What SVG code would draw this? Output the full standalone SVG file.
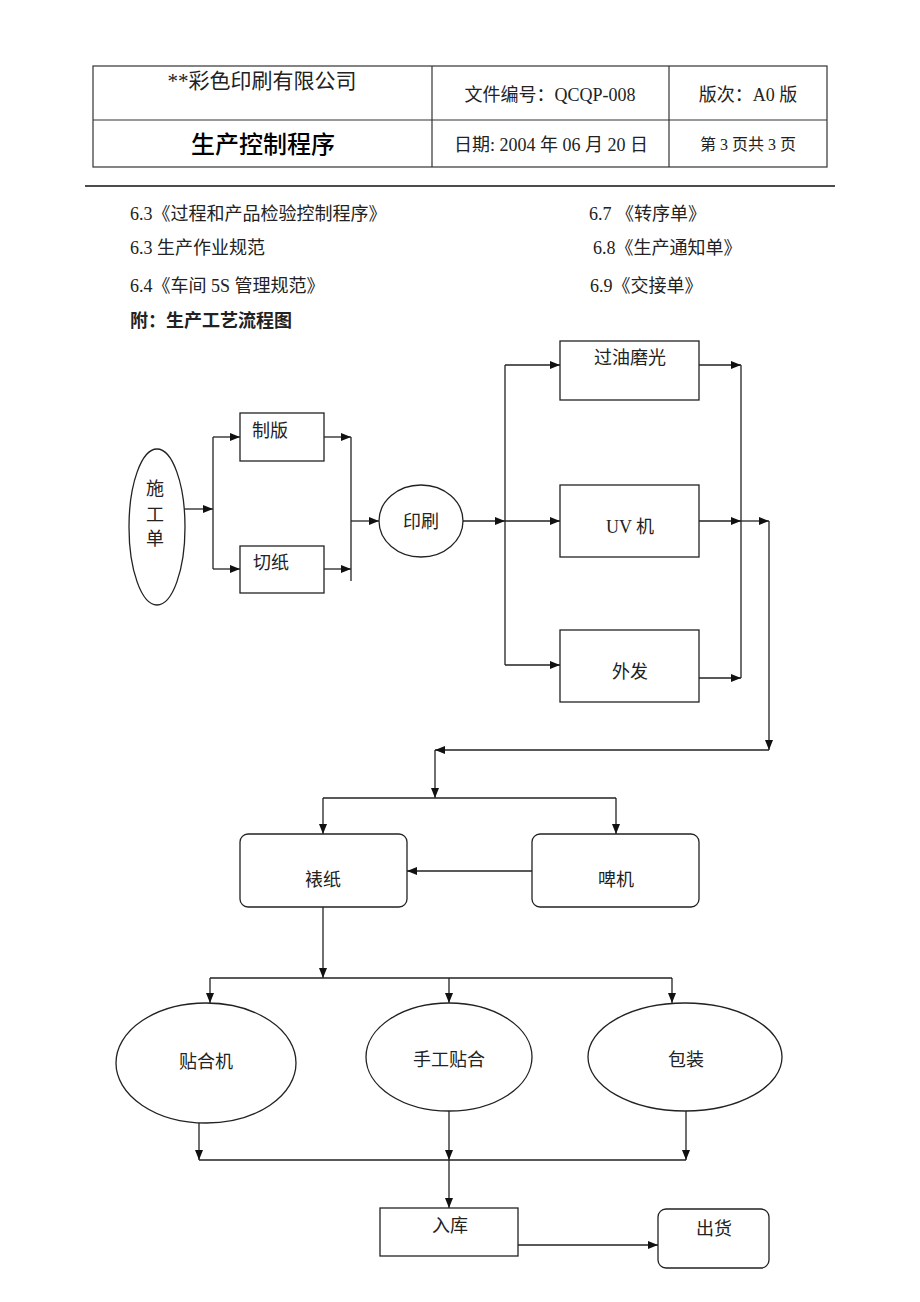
<svg xmlns="http://www.w3.org/2000/svg" width="920" height="1302" viewBox="0 0 920 1302">
<style>
text{font-family:"Liberation Serif","Noto Sans CJK SC",serif;fill:#222;font-size:18px}
.b{font-weight:bold;font-family:"Liberation Sans","Noto Sans CJK SC",sans-serif}
.m{text-anchor:middle}
.f20{font-size:21px}
.f16{font-size:16px}
.f17{font-size:18px}
.title{font-size:24px;font-family:"Noto Sans CJK SC",sans-serif;font-weight:500;fill:#000}
.s{fill:#fff;stroke:#222;stroke-width:1.3}
.c{fill:none;stroke:#222;stroke-width:1.3}
.t{fill:none;stroke:#333;stroke-width:1.2}
</style>
<defs>
<marker id="a" markerUnits="userSpaceOnUse" markerWidth="10" markerHeight="8" refX="10" refY="4" orient="auto"><path d="M0,0L10,4L0,8z" fill="#111"/></marker>
</defs>
<rect width="920" height="1302" fill="#fff"/>
<g id="header">
<rect class="t" x="93" y="66" width="734" height="101"/>
<line class="t" x1="93" y1="120" x2="827" y2="120"/>
<line class="t" x1="432" y1="66" x2="432" y2="167"/>
<line class="t" x1="669" y1="66" x2="669" y2="167"/>
<line x1="85" y1="186" x2="835" y2="186" stroke="#111" stroke-width="1.6"/>
<text class="m f20" x="262" y="88">**彩色印刷有限公司</text>
<text class="m" x="550" y="101">文件编号：QCQP-008</text>
<text class="m" x="748" y="101">版次：A0 版</text>
<text class="m title" x="263" y="153">生产控制程序</text>
<text class="m" x="551" y="151">日期: 2004 年 06 月 20 日</text>
<text class="m f16" x="748" y="150">第 3 页共 3 页</text>
</g>
<g id="refs">
<text x="130" y="220">6.3《过程和产品检验控制程序》</text>
<text x="589" y="220">6.7 《转序单》</text>
<text x="130" y="254">6.3 生产作业规范</text>
<text x="593" y="254">6.8《生产通知单》</text>
<text x="130" y="292">6.4《车间 5S 管理规范》</text>
<text x="590" y="292">6.9《交接单》</text>
<text class="b f17" x="130" y="327">附：生产工艺流程图</text>
</g>
<g id="connectors">
<path class="c" d="M185,509H213" marker-end="url(#a)"/>
<path class="c" d="M213,437V569"/>
<path class="c" d="M213,437H240" marker-end="url(#a)"/>
<path class="c" d="M213,569H240" marker-end="url(#a)"/>
<path class="c" d="M324,437H351" marker-end="url(#a)"/>
<path class="c" d="M324,569H351" marker-end="url(#a)"/>
<path class="c" d="M351,437V581"/>
<path class="c" d="M351,521H379" marker-end="url(#a)"/>
<path class="c" d="M463,521H505" marker-end="url(#a)"/>
<path class="c" d="M505,365V665"/>
<path class="c" d="M505,365H560" marker-end="url(#a)"/>
<path class="c" d="M505,521H560" marker-end="url(#a)"/>
<path class="c" d="M505,665H560" marker-end="url(#a)"/>
<path class="c" d="M699,365H741" marker-end="url(#a)"/>
<path class="c" d="M699,521H741" marker-end="url(#a)"/>
<path class="c" d="M699,678H741" marker-end="url(#a)"/>
<path class="c" d="M741,365V678"/>
<path class="c" d="M741,521H769" marker-end="url(#a)"/>
<path class="c" d="M769,521V750" marker-end="url(#a)"/>
<path class="c" d="M769,750H435" marker-end="url(#a)"/>
<path class="c" d="M435,750V798" marker-end="url(#a)"/>
<path class="c" d="M323,798H616"/>
<path class="c" d="M323,798V834" marker-end="url(#a)"/>
<path class="c" d="M616,798V834" marker-end="url(#a)"/>
<path class="c" d="M532,871H407" marker-end="url(#a)"/>
<path class="c" d="M323,907V978" marker-end="url(#a)"/>
<path class="c" d="M210,978H672"/>
<path class="c" d="M210,978V1003" marker-end="url(#a)"/>
<path class="c" d="M449,978V1003" marker-end="url(#a)"/>
<path class="c" d="M672,978V1003" marker-end="url(#a)"/>
<path class="c" d="M199,1123V1160" marker-end="url(#a)"/>
<path class="c" d="M449,1111V1160" marker-end="url(#a)"/>
<path class="c" d="M686,1111V1160" marker-end="url(#a)"/>
<path class="c" d="M199,1160H686"/>
<path class="c" d="M449,1160V1208" marker-end="url(#a)"/>
<path class="c" d="M518,1245H658" marker-end="url(#a)"/>
</g>
<g id="n-shigongdan"><ellipse class="s" cx="157" cy="527" rx="28" ry="78"/><text class="m" x="155" y="495">施</text><text class="m" x="155" y="521">工</text><text class="m" x="155" y="545">单</text></g>
<g id="n-zhiban"><rect class="s" x="240" y="413" width="84" height="48"/><text x="252" y="437">制版</text></g>
<g id="n-qiezhi"><rect class="s" x="240" y="546" width="84" height="47"/><text x="253" y="569">切纸</text></g>
<g id="n-yinshua"><ellipse class="s" cx="421" cy="521" rx="42" ry="36"/><text class="m" x="421" y="528">印刷</text></g>
<g id="n-guoyou"><rect class="s" x="560" y="341" width="139" height="59"/><text class="m" x="630" y="364">过油磨光</text></g>
<g id="n-uv"><rect class="s" x="560" y="485" width="139" height="72"/><text class="m" x="630" y="533">UV 机</text></g>
<g id="n-waifa"><rect class="s" x="560" y="630" width="139" height="72"/><text class="m" x="630" y="678">外发</text></g>
<g id="n-biaozhi"><rect class="s" x="240" y="834" width="167" height="73" rx="8"/><text class="m" x="323" y="886">裱纸</text></g>
<g id="n-piji"><rect class="s" x="532" y="834" width="167" height="73" rx="8"/><text class="m" x="616" y="886">啤机</text></g>
<g id="n-tiehe"><ellipse class="s" cx="206" cy="1063" rx="90" ry="60"/><text class="m" x="206" y="1068">贴合机</text></g>
<g id="n-shougong"><ellipse class="s" cx="449" cy="1057" rx="83" ry="54"/><text class="m" x="449" y="1066">手工贴合</text></g>
<g id="n-baozhuang"><ellipse class="s" cx="685" cy="1057" rx="97" ry="54"/><text class="m" x="686" y="1066">包装</text></g>
<g id="n-ruku"><rect class="s" x="380" y="1208" width="138" height="48"/><text class="m" x="450" y="1232">入库</text></g>
<g id="n-chuhuo"><rect class="s" x="658" y="1209" width="111" height="59" rx="8"/><text class="m" x="714" y="1235">出货</text></g>
</svg>
